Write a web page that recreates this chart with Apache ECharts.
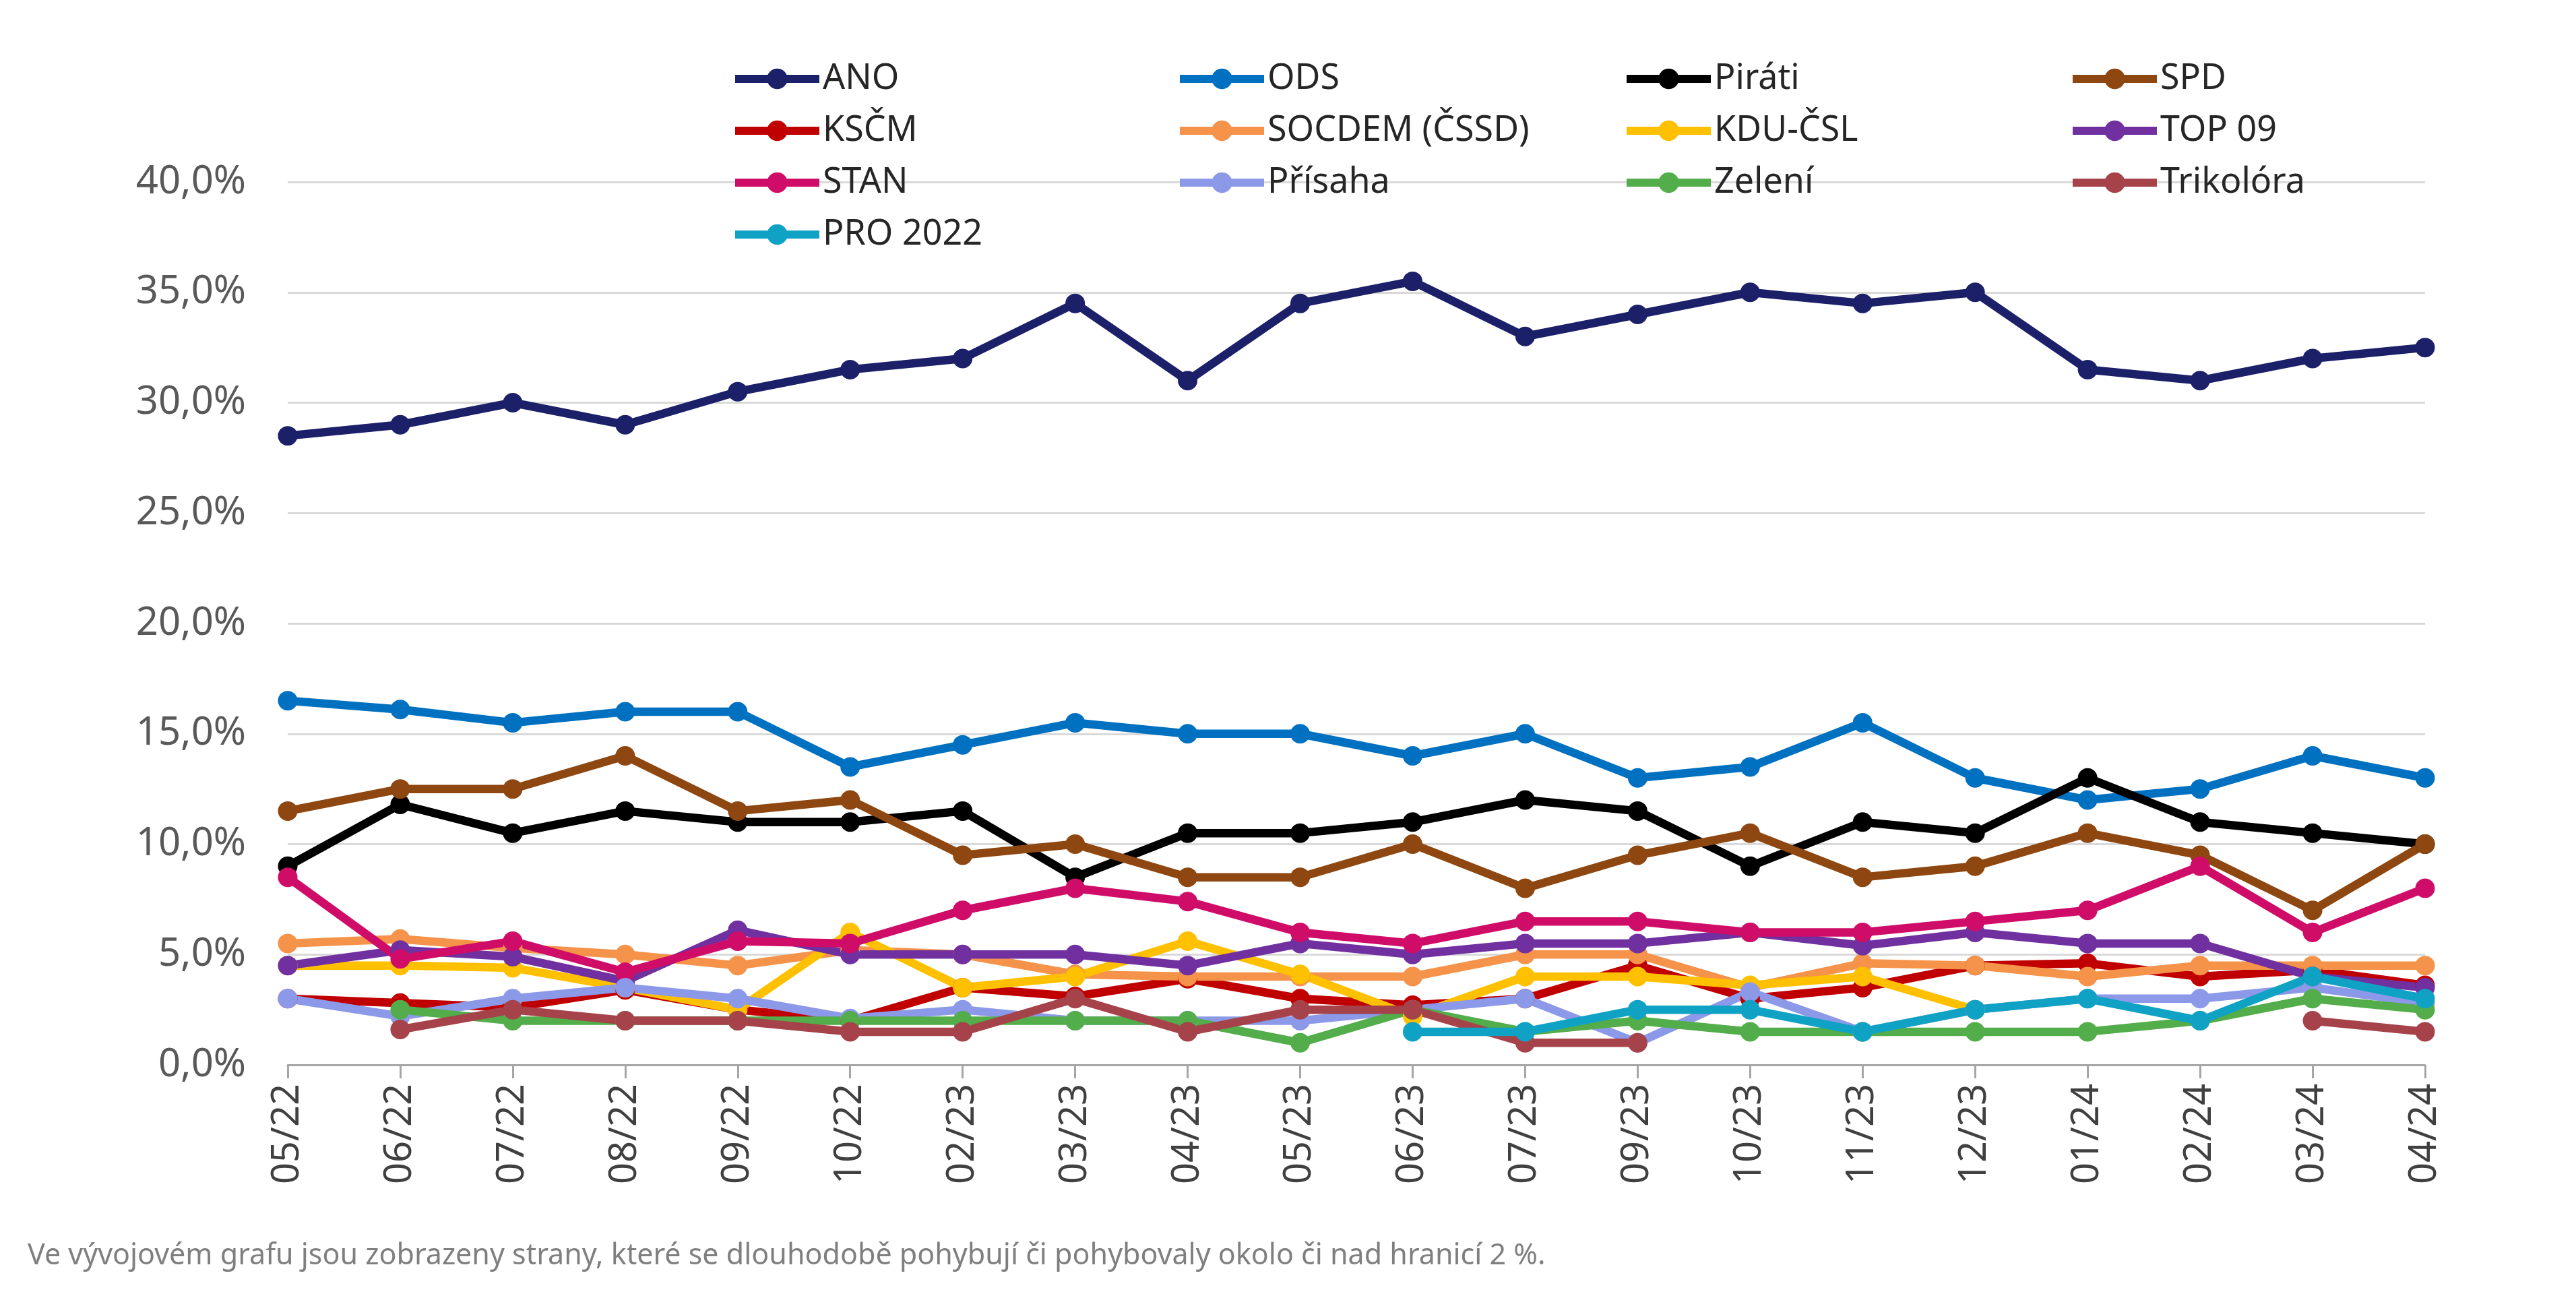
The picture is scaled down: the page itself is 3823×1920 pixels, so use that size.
<!DOCTYPE html>
<html>
<head>
<meta charset="utf-8">
<script src="https://cdn.jsdelivr.net/npm/echarts@6/dist/echarts.min.js"></script>
<style>
  html, body { margin: 0; padding: 0; background: #fff; }
  #chart { width: 3823px; height: 1920px; }
</style>
</head>
<body>
<div id="chart"></div>
<script>
// months of the polls
const months = ['05/22', '06/22', '07/22', '08/22', '09/22', '10/22', '02/23', '03/23', '04/23', '05/23',
                '06/23', '07/23', '09/23', '10/23', '11/23', '12/23', '01/24', '02/24', '03/24', '04/24'];

// party results in %
const ano       = [28.5, 29.0, 30.0, 29.0, 30.5, 31.5, 32.0, 34.5, 31.0, 34.5, 35.5, 33.0, 34.0, 35.0, 34.5, 35.0, 31.5, 31.0, 32.0, 32.5];
const ods       = [16.5, 16.1, 15.5, 16.0, 16.0, 13.5, 14.5, 15.5, 15.0, 15.0, 14.0, 15.0, 13.0, 13.5, 15.5, 13.0, 12.0, 12.5, 14.0, 13.0];
const pirati    = [9.0, 11.8, 10.5, 11.5, 11.0, 11.0, 11.5, 8.5, 10.5, 10.5, 11.0, 12.0, 11.5, 9.0, 11.0, 10.5, 13.0, 11.0, 10.5, 10.0];
const spd       = [11.5, 12.5, 12.5, 14.0, 11.5, 12.0, 9.5, 10.0, 8.5, 8.5, 10.0, 8.0, 9.5, 10.5, 8.5, 9.0, 10.5, 9.5, 7.0, 10.0];
const kscm      = [3.0, 2.8, 2.6, 3.4, 2.5, 2.0, 3.5, 3.1, 3.9, 3.0, 2.7, 3.0, 4.5, 3.0, 3.5, 4.5, 4.6, 4.0, 4.3, 3.6];
const socdem    = [5.5, 5.7, 5.3, 5.0, 4.5, 5.2, 5.0, 4.1, 4.0, 4.0, 4.0, 5.0, 5.0, 3.5, 4.6, 4.5, 4.0, 4.5, 4.5, 4.5];
const kdu       = [4.5, 4.5, 4.4, 3.5, 2.5, 6.0, 3.5, 4.0, 5.6, 4.1, 2.2, 4.0, 4.0, 3.6, 4.0, 2.5, null, null, null, null];
const top09     = [4.5, 5.2, 4.9, 3.8, 6.1, 5.0, 5.0, 5.0, 4.5, 5.5, 5.0, 5.5, 5.5, 6.0, 5.4, 6.0, 5.5, 5.5, 4.0, 3.5];
const stan      = [8.5, 4.8, 5.6, 4.2, 5.6, 5.5, 7.0, 8.0, 7.4, 6.0, 5.5, 6.5, 6.5, 6.0, 6.0, 6.5, 7.0, 9.0, 6.0, 8.0];
const prisaha   = [3.0, 2.2, 3.0, 3.5, 3.0, 2.1, 2.5, 2.0, 2.0, 2.0, 2.5, 3.0, 1.0, 3.3, 1.5, 2.5, 3.0, 3.0, 3.5, 2.8];
const zeleni    = [null, 2.5, 2.0, 2.0, 2.0, 2.0, 2.0, 2.0, 2.0, 1.0, 2.5, 1.5, 2.0, 1.5, 1.5, 1.5, 1.5, 2.0, 3.0, 2.5];
const trikolora = [null, 1.6, 2.5, 2.0, 2.0, 1.5, 1.5, 3.0, 1.5, 2.5, 2.5, 1.0, 1.0, null, null, null, null, null, 2.0, 1.5];
const pro2022   = [null, null, null, null, null, null, null, null, null, null, 1.5, 1.5, 2.5, 2.5, 1.5, 2.5, 3.0, 2.0, 4.0, 3.0];

const parties = [
    ['ANO', ano, '#1b2068'],
    ['ODS', ods, '#0070c0'],
    ['Piráti', pirati, '#000000'],
    ['SPD', spd, '#8e4710'],
    ['KSČM', kscm, '#c00000'],
    ['SOCDEM (ČSSD)', socdem, '#f5934a'],
    ['KDU-ČSL', kdu, '#ffc000'],
    ['TOP 09', top09, '#7030a0'],
    ['STAN', stan, '#cf0d68'],
    ['Přísaha', prisaha, '#8c99e8'],
    ['Zelení', zeleni, '#52ad4a'],
    ['Trikolóra', trikolora, '#a6424a'],
    ['PRO 2022', pro2022, '#0fa2c4']
];

// legend columns as in the original (4 columns)
const legendCols = [
    ['ANO', 'KSČM', 'STAN', 'PRO 2022'],
    ['ODS', 'SOCDEM (ČSSD)', 'Přísaha'],
    ['Piráti', 'KDU-ČSL', 'Zelení'],
    ['SPD', 'TOP 09', 'Trikolóra']
];
const legendLeft = [1080, 1740, 2403, 3065];

const FONT = '"Noto Sans", "Open Sans", sans-serif';

const chart = echarts.init(document.getElementById('chart'));

const legends = legendCols.map((names, i) => ({
    data: names,
    orient: 'vertical',
    left: legendLeft[i],
    top: 86,
    itemWidth: 125,
    itemHeight: 38,
    itemGap: 25,
    lineStyle: { width: 12 },
    textStyle: { fontFamily: FONT, fontSize: 52, color: '#262626' }
}));

const series = parties.map(([name, values, color]) => ({
    name: name,
    type: 'line',
    data: values,
    symbol: 'circle',
    symbolSize: 29,
    showSymbol: true,
    color: color,
    lineStyle: { width: 12.5, color: color },
    itemStyle: { color: color },
    emphasis: { disabled: true }
}));

const option = {
    backgroundColor: '#ffffff',
    animation: false,
    legend: legends,
    grid: { left: 427, right: 224, top: 270, bottom: 340 },
    xAxis: {
        type: 'category',
        data: months,
        boundaryGap: false,
        axisLine: { lineStyle: { color: '#a6a6a6', width: 3 } },
        axisTick: { show: true, length: 20, lineStyle: { color: '#a6a6a6', width: 3 } },
        axisLabel: {
            rotate: 90,
            margin: 28,
            fontFamily: FONT,
            fontSize: 56,
            color: '#404040'
        },
        splitLine: { show: false }
    },
    yAxis: {
        type: 'value',
        min: 0,
        max: 40,
        interval: 5,
        axisLine: { show: false },
        axisTick: { show: false },
        axisLabel: {
            margin: 62,
            fontFamily: FONT,
            fontSize: 58,
            color: '#595959',
            formatter: (v) => v.toFixed(1).replace('.', ',') + '%'
        },
        splitLine: { lineStyle: { color: '#d9d9d9', width: 3 } }
    },
    graphic: [{
        type: 'text',
        left: 41,
        top: 1842,
        style: {
            text: 'Ve vývojovém grafu jsou zobrazeny strany, které se dlouhodobě pohybují či pohybovaly okolo či nad hranicí 2 %.',
            fontFamily: FONT,
            fontSize: 43,
            fill: '#7f7f7f'
        }
    }],
    series: series
};

chart.setOption(option);
</script>
</body>
</html>
